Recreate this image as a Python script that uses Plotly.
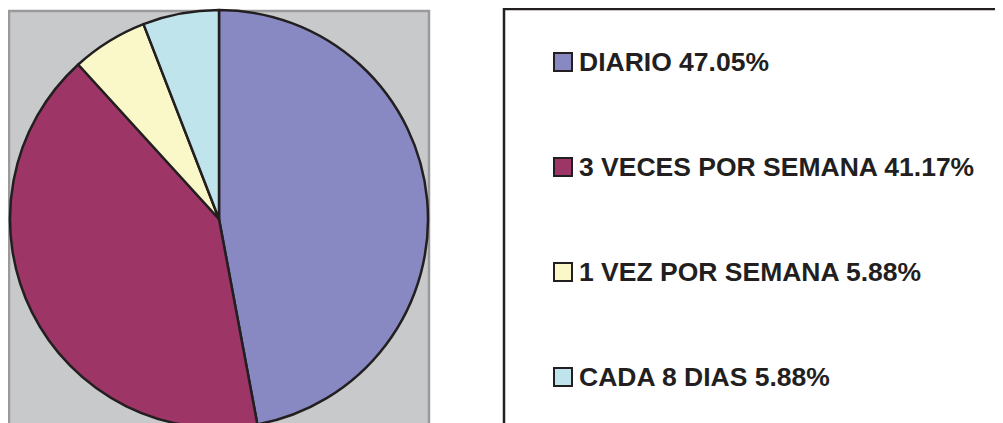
import plotly.graph_objects as go

# ---- data ----
labels = ["DIARIO", "3 VECES POR SEMANA", "1 VEZ POR SEMANA", "CADA 8 DIAS"]
values = [47.05, 41.17, 5.88, 5.88]
colors = ["#8889C3", "#9D3667", "#FAF8C9", "#BFE4EC"]

# ---- layout constants (pixels, in screenshot coordinates) ----
W, FIG_H = 1003, 432
OFF = 8  # page body margin offsets the figure in the screenshot
cx, cy, r = 219, 219, 209

def px(x):
    return (x - OFF) / W

def py(y):
    return 1 - (y - OFF) / FIG_H

fig = go.Figure()
fig.add_trace(go.Pie(
    labels=labels,
    values=values,
    marker=dict(colors=colors, line=dict(color="#231F20", width=2.5)),
    sort=False,
    direction="clockwise",
    rotation=0,
    textinfo="none",
    hoverinfo="label+percent",
    showlegend=False,
    domain=dict(x=[px(cx - r), px(cx + r)], y=[py(cy + r), py(cy - r)]),
))

shapes = [
    # gray plot area
    dict(type="rect", xref="paper", yref="paper", layer="below",
         x0=px(9), x1=px(429), y0=py(460), y1=py(11),
         fillcolor="#C8C9CB", line=dict(color="#9A9A9C", width=2.5)),
    # legend box
    dict(type="rect", xref="paper", yref="paper", layer="below",
         x0=px(504), x1=px(1030), y0=py(460), y1=py(9),
         fillcolor="#FFFFFF", line=dict(color="#231F20", width=2.5)),
]
annotations = []
row0, gap, sq = 62, 105, 18
for i, (lab, val, col) in enumerate(zip(labels, values, colors)):
    yc = row0 + i * gap
    shapes.append(dict(type="rect", xref="paper", yref="paper",
                       x0=px(554), x1=px(554 + sq), y0=py(yc + sq / 2), y1=py(yc - sq / 2),
                       fillcolor=col, line=dict(color="#231F20", width=2)))
    annotations.append(dict(xref="paper", yref="paper", x=px(577), y=py(yc),
                            xanchor="left", yanchor="middle", showarrow=False,
                            text=f"<b>{lab} {val:.2f}%</b>",
                            font=dict(family="Liberation Sans, Arial, sans-serif",
                                      size=26.5, color="#231F20")))

fig.update_layout(
    width=W, height=FIG_H,
    margin=dict(l=0, r=0, t=0, b=0),
    paper_bgcolor="#FFFFFF",
    plot_bgcolor="#FFFFFF",
    shapes=shapes,
    annotations=annotations,
)
fig.write_html("out.html")
